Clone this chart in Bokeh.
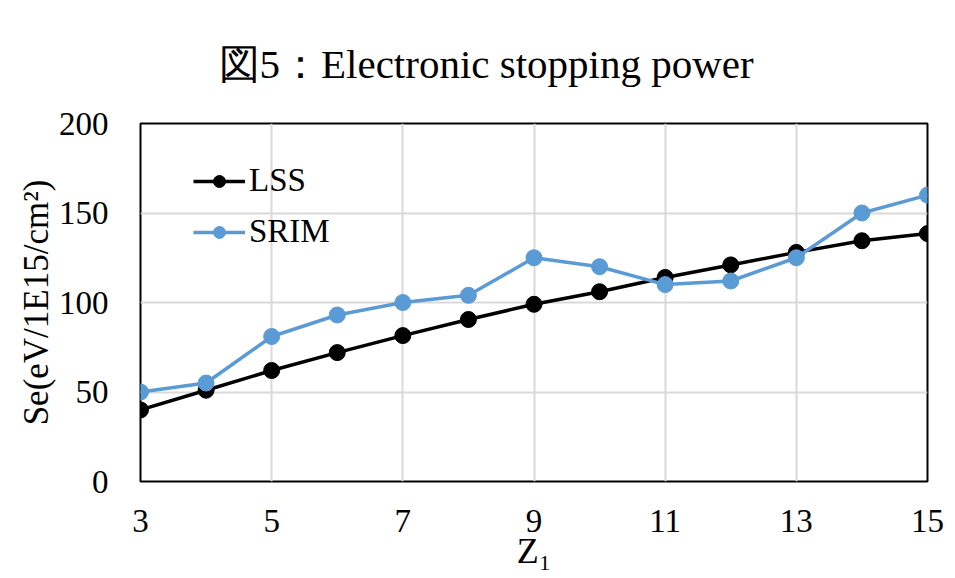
from bokeh.plotting import figure
from bokeh.models import FixedTicker, Range1d, Legend, LegendItem, Title
from bokeh.embed import file_html
from bokeh.resources import INLINE

z1 = [3, 4, 5, 6, 7, 8, 9, 10, 11, 12, 13, 14, 15]
lss = [40, 51, 62, 72, 81.5, 90.5, 99, 106, 114, 121, 128, 134.5, 138.5]
srim = [50, 55, 81, 93, 100, 104, 125, 120, 110, 112, 125, 150, 160]
x_ticks = [3, 5, 7, 9, 11, 13, 15]
y_ticks = [0, 50, 100, 150, 200]

FONT = "Liberation Serif"

p = figure(width=955, height=578, output_backend="svg", toolbar_location=None,
           x_range=Range1d(3, 15), y_range=Range1d(0, 200),
           min_border_left=140, min_border_right=28, min_border_top=123, min_border_bottom=97)

p.title = Title(text="図5：Electronic stopping power", text_font=FONT, text_font_size="41px",
                text_font_style="normal", text_color="black", align="left", offset=78, standoff=74)

p.xaxis.ticker = FixedTicker(ticks=x_ticks)
p.yaxis.ticker = FixedTicker(ticks=y_ticks)
for ax in (p.xaxis[0], p.yaxis[0]):
    ax.axis_line_color = None
    ax.major_tick_line_color = None
    ax.minor_tick_line_color = None
    ax.major_label_text_font = FONT
    ax.major_label_text_font_size = "33px"
    ax.major_label_text_color = "black"
    ax.axis_label_text_font = FONT
    ax.axis_label_text_font_style = "normal"
    ax.axis_label_text_color = "black"
p.xaxis.axis_label_text_font_size = "36px"
p.yaxis.axis_label_text_font_size = "35px"
p.xaxis.major_label_standoff = 22
p.yaxis.major_label_standoff = 26
p.xaxis.axis_label = "Z₁"
p.xaxis.axis_label_standoff = -4
p.yaxis.axis_label = "Se(eV/1E15/cm²)"
p.yaxis.axis_label_standoff = 0

p.xgrid.grid_line_color = "#d9d9d9"
p.ygrid.grid_line_color = "#d9d9d9"
p.xgrid.grid_line_width = 2
p.ygrid.grid_line_width = 2
p.outline_line_color = "black"
p.outline_line_width = 2

BLUE = "#5b9bd5"
l1 = p.line(z1, lss, line_color="black", line_width=3.5)
c1 = p.scatter(z1, lss, size=16, fill_color="black", line_color="black")
l2 = p.line(z1, srim, line_color=BLUE, line_width=3.5)
c2 = p.scatter(z1, srim, size=16, fill_color=BLUE, line_color=BLUE)

legend = Legend(items=[LegendItem(label="LSS", renderers=[l1, c1]),
                       LegendItem(label="SRIM", renderers=[l2, c2])],
                location=(53, 231), border_line_color=None, background_fill_alpha=0,
                label_text_font=FONT, label_text_font_size="33px", label_text_color="black",
                glyph_width=52, glyph_height=30, spacing=14, margin=0,
                label_standoff=4, padding=10)
p.add_layout(legend)

open("out.html", "w").write(file_html(p, INLINE))
